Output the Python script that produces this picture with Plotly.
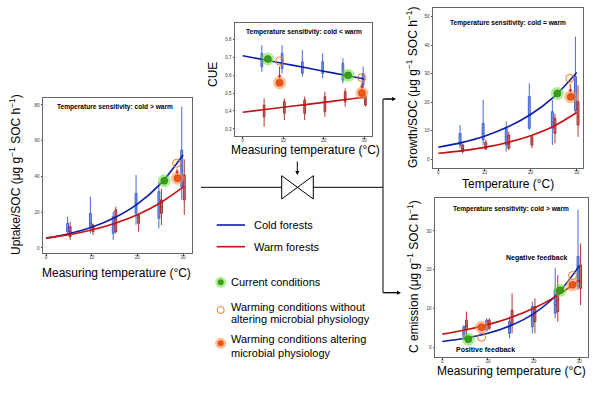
import plotly.graph_objects as go

W, H = 600, 393
def px(x): return x / W
def py(y): return 1 - y / H

FONT = "Liberation Sans, Arial, sans-serif"

temps = [5, 10, 15, 20, 25, 30]
curve_t = [0, 5, 10, 15, 20, 25, 30]

# ---------- Uptake/SOC ----------
up_cold_curve = [5.5, 8.0, 11.6, 16.9, 24.5, 35.7, 52.0]
up_warm_curve = [5.5, 7.5, 10.1, 13.7, 18.6, 25.2, 34.0]
up_cold_lo  = [8.2, 8.2, 4.5, 12.9, 11.0, 26.9]
up_cold_q1  = [9.1, 11.9, 8.2, 19.4, 16.6, 34.3]
up_cold_med = [11, 14, 13, 25, 25, 46]
up_cold_q3  = [13.8, 19.4, 17.5, 30.6, 31.5, 54.8]
up_cold_hi  = [17.5, 28.7, 20.3, 40.8, 37.0, 79.0]
up_warm_lo  = [4.5, 7.3, 8.2, 9.1, 12.9, 18.5]
up_warm_q1  = [6.3, 9.1, 9.1, 13.8, 19.4, 26.9]
up_warm_med = [9, 11, 14, 17, 23, 34]
up_warm_q3  = [11.9, 12.9, 21.3, 18.5, 26.9, 40.8]
up_warm_hi  = [14.7, 13.8, 23.1, 19.4, 33.0, 49.6]
up_current = ([25.9], [37.6])
up_nophys  = ([28.6], [47.4])
up_phys    = ([28.8], [39.0])

# ---------- CUE ----------
cue_cold_curve = [0.707, 0.686, 0.664, 0.643, 0.621, 0.600, 0.578]
cue_warm_curve = [0.393, 0.407, 0.421, 0.434, 0.448, 0.462, 0.476]
cue_cold_lo  = [0.618, 0.609, 0.590, 0.582, 0.554, 0.526]
cue_cold_q1  = [0.646, 0.637, 0.609, 0.609, 0.572, 0.544]
cue_cold_med = [0.685, 0.670, 0.640, 0.620, 0.610, 0.578]
cue_cold_q3  = [0.720, 0.720, 0.674, 0.674, 0.665, 0.609]
cue_cold_hi  = [0.766, 0.766, 0.739, 0.720, 0.693, 0.646]
cue_warm_lo  = [0.313, 0.350, 0.350, 0.368, 0.424, 0.424]
cue_warm_q1  = [0.368, 0.387, 0.387, 0.396, 0.452, 0.433]
cue_warm_med = [0.405, 0.420, 0.430, 0.445, 0.470, 0.460]
cue_warm_q3  = [0.433, 0.452, 0.461, 0.480, 0.507, 0.480]
cue_warm_hi  = [0.470, 0.470, 0.480, 0.507, 0.526, 0.489]
cue_current = ([6.2, 26.0], [0.689, 0.598])
cue_nophys  = ([9.1, 29.4], [0.678, 0.585])
cue_phys    = ([9.1, 29.4], [0.557, 0.500])

# ---------- Growth/SOC ----------
gr_cold_curve = [4.2, 5.85, 8.1, 11.3, 15.7, 21.8, 30.4]
gr_warm_curve = [2.1, 2.96, 4.17, 5.87, 8.27, 11.6, 16.4]
gr_cold_lo  = [3.8, 5.0, 2.7, 10.3, 5.0, 16.0]
gr_cold_q1  = [5.0, 6.8, 5.0, 10.9, 10.9, 17.0]
gr_cold_med = [6.0, 9.0, 8.0, 16.0, 13.0, 22.0]
gr_cold_q3  = [9.1, 12.6, 10.9, 22.0, 16.7, 29.0]
gr_cold_hi  = [12.0, 20.8, 13.2, 26.6, 20.8, 43.0]
gr_warm_lo  = [2.1, 3.3, 3.3, 3.9, 5.6, 7.9]
gr_warm_q1  = [2.7, 3.6, 3.9, 5.0, 9.1, 12.0]
gr_warm_med = [3.7, 4.5, 5.5, 6.5, 12.0, 15.0]
gr_warm_q3  = [5.0, 6.0, 8.5, 7.9, 14.4, 20.2]
gr_warm_hi  = [5.6, 6.8, 9.7, 8.5, 16.0, 26.0]
gr_current = ([25.8], [23.1])
gr_nophys  = ([28.5], [28.4])
gr_phys    = ([28.7], [21.9])

# ---------- C emission ----------
ce_cold_curve = [1.5, 2.33, 3.62, 5.6, 8.7, 13.5, 21.0]
ce_warm_curve = [3.4, 4.46, 5.85, 7.67, 10.06, 13.2, 17.3]
ce_cold_lo  = [2.3, 4.0, 2.3, 3.6, 7.5, 14.8]
ce_cold_q1  = [2.7, 4.5, 3.6, 5.3, 8.8, 15.6]
ce_cold_med = [3.5, 5.5, 5.0, 8.0, 11.0, 21.0]
ce_cold_q3  = [5.3, 7.0, 6.6, 10.5, 14.8, 23.4]
ce_cold_hi  = [5.7, 7.5, 7.9, 11.8, 20.4, 35.5]
ce_warm_lo  = [2.7, 4.5, 3.6, 3.6, 6.6, 10.9]
ce_warm_q1  = [4.5, 4.9, 5.8, 6.6, 9.2, 15.2]
ce_warm_med = [5.5, 6.0, 8.0, 9.0, 12.0, 17.0]
ce_warm_q3  = [7.0, 7.0, 9.6, 10.5, 15.2, 21.2]
ce_warm_hi  = [9.2, 7.5, 13.9, 12.6, 18.6, 26.8]
ce_current = ([5.7, 25.8], [2.1, 14.7])
ce_nophys  = ([8.6, 28.5], [2.6, 18.5])
ce_phys    = ([8.6, 28.5], [5.2, 16.1])

BLUE_LINE = "#0c1ea6"
RED_LINE = "#c31212"
BLUE_BOX_LINE = "#3558d0"
BLUE_BOX_FILL = "rgba(80,120,230,0.75)"
RED_BOX_LINE = "#a52020"
RED_BOX_FILL = "rgba(180,55,55,0.7)"
GREEN = "#3c9c1c"
GREEN_HALO = "rgba(110,225,60,0.55)"
ORANGE = "#ec561a"
ORANGE_HALO = "rgba(255,140,60,0.55)"
HOLLOW = "#f07a2a"

fig = go.Figure()

def add_panel(n, cold_curve, warm_curve, cold_box, warm_box, current, nophys, phys):
    xa = "x" if n == 1 else f"x{n}"
    ya = "y" if n == 1 else f"y{n}"
    for box, off, lc, fc in [(cold_box, -0.28, BLUE_BOX_LINE, BLUE_BOX_FILL),
                             (warm_box, 0.28, RED_BOX_LINE, RED_BOX_FILL)]:
        lo, q1, med, q3, hi = box
        fig.add_trace(go.Box(x=[t + off for t in temps], lowerfence=lo, q1=q1, median=med,
                             q3=q3, upperfence=hi, width=0.42, whiskerwidth=0,
                             fillcolor=fc, line=dict(color=lc, width=0.9),
                             boxpoints=False, xaxis=xa, yaxis=ya, showlegend=False,
                             hoverinfo="skip"))
    for curve, c in [(cold_curve, BLUE_LINE), (warm_curve, RED_LINE)]:
        fig.add_trace(go.Scatter(x=curve_t, y=curve, mode="lines",
                                 line=dict(color=c, width=1.6, shape="spline"),
                                 xaxis=xa, yaxis=ya, showlegend=False, hoverinfo="skip"))
    fig.add_trace(go.Scatter(x=current[0], y=current[1], mode="markers",
                             marker=dict(size=13, color=GREEN_HALO), xaxis=xa, yaxis=ya,
                             showlegend=False, hoverinfo="skip"))
    fig.add_trace(go.Scatter(x=current[0], y=current[1], mode="markers",
                             marker=dict(size=7, color=GREEN, line=dict(color="#2a7a10", width=0.6)),
                             xaxis=xa, yaxis=ya, showlegend=False, hoverinfo="skip"))
    fig.add_trace(go.Scatter(x=nophys[0], y=nophys[1], mode="markers",
                             marker=dict(size=8, symbol="circle-open", color=HOLLOW,
                                         line=dict(width=1)),
                             xaxis=xa, yaxis=ya, showlegend=False, hoverinfo="skip"))
    fig.add_trace(go.Scatter(x=phys[0], y=phys[1], mode="markers",
                             marker=dict(size=13, color=ORANGE_HALO), xaxis=xa, yaxis=ya,
                             showlegend=False, hoverinfo="skip"))
    fig.add_trace(go.Scatter(x=phys[0], y=phys[1], mode="markers",
                             marker=dict(size=7, color=ORANGE, line=dict(color="#c03a10", width=0.6)),
                             xaxis=xa, yaxis=ya, showlegend=False, hoverinfo="skip"))
    for hx, hy, fx, fy in zip(nophys[0], nophys[1], phys[0], phys[1]):
        fig.add_annotation(x=fx, y=fy, ax=hx, ay=hy, xref=xa, yref=ya, axref=xa, ayref=ya,
                           text="", showarrow=True, arrowhead=2, arrowsize=0.7,
                           arrowwidth=1, arrowcolor="#e02020", standoff=4, startstandoff=4)

add_panel(1, up_cold_curve, up_warm_curve,
          (up_cold_lo, up_cold_q1, up_cold_med, up_cold_q3, up_cold_hi),
          (up_warm_lo, up_warm_q1, up_warm_med, up_warm_q3, up_warm_hi),
          up_current, up_nophys, up_phys)
add_panel(2, cue_cold_curve, cue_warm_curve,
          (cue_cold_lo, cue_cold_q1, cue_cold_med, cue_cold_q3, cue_cold_hi),
          (cue_warm_lo, cue_warm_q1, cue_warm_med, cue_warm_q3, cue_warm_hi),
          cue_current, cue_nophys, cue_phys)
add_panel(3, gr_cold_curve, gr_warm_curve,
          (gr_cold_lo, gr_cold_q1, gr_cold_med, gr_cold_q3, gr_cold_hi),
          (gr_warm_lo, gr_warm_q1, gr_warm_med, gr_warm_q3, gr_warm_hi),
          gr_current, gr_nophys, gr_phys)
add_panel(4, ce_cold_curve, ce_warm_curve,
          (ce_cold_lo, ce_cold_q1, ce_cold_med, ce_cold_q3, ce_cold_hi),
          (ce_warm_lo, ce_warm_q1, ce_warm_med, ce_warm_q3, ce_warm_hi),
          ce_current, ce_nophys, ce_phys)

# legend markers on an overlay pixel axis
leg_x = [220.7]
fig.add_trace(go.Scatter(x=leg_x, y=[282.3], mode="markers", marker=dict(size=11, color=GREEN_HALO),
                         xaxis="x5", yaxis="y5", showlegend=False, hoverinfo="skip"))
fig.add_trace(go.Scatter(x=leg_x, y=[282.3], mode="markers", marker=dict(size=6, color=GREEN),
                         xaxis="x5", yaxis="y5", showlegend=False, hoverinfo="skip"))
fig.add_trace(go.Scatter(x=leg_x, y=[310], mode="markers",
                         marker=dict(size=7, symbol="circle-open", color=HOLLOW, line=dict(width=1)),
                         xaxis="x5", yaxis="y5", showlegend=False, hoverinfo="skip"))
fig.add_trace(go.Scatter(x=leg_x, y=[343.3], mode="markers", marker=dict(size=11, color=ORANGE_HALO),
                         xaxis="x5", yaxis="y5", showlegend=False, hoverinfo="skip"))
fig.add_trace(go.Scatter(x=leg_x, y=[343.3], mode="markers", marker=dict(size=6, color=ORANGE),
                         xaxis="x5", yaxis="y5", showlegend=False, hoverinfo="skip"))

def axis(domain, rng, tickvals, anchor, fmt=None, is_x=False):
    d = dict(domain=domain, range=rng, tickvals=tickvals, anchor=anchor,
             showline=True, mirror=True, linecolor="#666", linewidth=1,
             ticks="outside", ticklen=1.5, tickwidth=0.8, tickcolor="#444",
             tickfont=dict(size=4.5, color="#333", family=FONT),
             showgrid=False, zeroline=False, fixedrange=True)
    if is_x:
        d["ticklabelstandoff"] = -2
    if fmt:
        d["tickformat"] = fmt
    return d

layout = dict(
    width=W, height=H, margin=dict(l=0, r=0, t=0, b=0),
    paper_bgcolor="white", plot_bgcolor="rgba(0,0,0,0)",
    font=dict(family=FONT, color="black"),
    showlegend=False,
    xaxis=axis([px(43), px(192)], [-0.66, 31.97], [0, 10, 20, 30], "y", is_x=True),
    yaxis=axis([py(253), py(98)], [-2.8, 83.9], [0, 20, 40, 60, 80], "x"),
    xaxis2=axis([px(235), px(372)], [-1.9, 31.9], [0, 10, 20, 30], "y2", is_x=True),
    yaxis2=axis([py(136), py(23)], [0.261, 0.889], [0.3, 0.4, 0.5, 0.6, 0.7, 0.8], "x2", ".1f"),
    xaxis3=axis([px(433), px(583)], [-1.15, 31.36], [0, 10, 20, 30], "y3", is_x=True),
    yaxis3=axis([py(168), py(8)], [-3.05, 53.05], [0, 10, 20, 30, 40, 50], "x3"),
    xaxis4=axis([px(435), px(588)], [-1.6, 31.9], [0, 10, 20, 30], "y4", is_x=True),
    yaxis4=axis([py(357), py(198)], [-2.5, 38.5], [0, 10, 20, 30], "x4"),
    xaxis5=dict(domain=[0, 1], range=[0, W], visible=False, anchor="y5", fixedrange=True),
    yaxis5=dict(domain=[0, 1], range=[H, 0], visible=False, anchor="x5", fixedrange=True),
)
fig.update_layout(**layout)

def note(text, x, y, size, angle=0, xanchor="center", color="black"):
    fig.add_annotation(text=text, x=px(x), y=py(y), xref="paper", yref="paper",
                       showarrow=False, textangle=angle, xanchor=xanchor, yanchor="middle",
                       font=dict(size=size, family=FONT, color=color))

note("<b>Temperature sensitivity: cold &gt; warm</b>", 115, 106.7, 6.6)
note("<b>Temperature sensitivity: cold &lt; warm</b>", 303.7, 31.7, 6.6)
note("<b>Temperature sensitivity: cold = warm</b>", 507.7, 22.7, 6.6)
note("<b>Temperature sensitivity: cold &gt; warm</b>", 511, 209, 6.6)
note("<b>Negative feedback</b>", 537.3, 258.3, 7)
note("<b>Positive feedback</b>", 485, 349, 7)

unit = " (μg g<sup>−1</sup> SOC h<sup>−1</sup>)"
note("Uptake/SOC" + unit, 15, 175, 12, angle=-90)
note("CUE", 213, 75, 12, angle=-90)
note("Growth/SOC" + unit, 412, 88, 12, angle=-90)
note("C emission" + unit, 413, 277, 12, angle=-90)
note("Measuring temperature (°C)", 116.7, 272.5, 12)
note("Measuring temperature (°C)", 305, 149.5, 12)
note("Temperature (°C)", 507.7, 183.5, 12)
note("Measuring temperature (°C)", 511, 371, 12)

note("Cold forests", 251.7, 225, 11, xanchor="left")
note("Warm forests", 251.7, 246.7, 11, xanchor="left")
note("Current conditions", 228.5, 282.3, 11, xanchor="left")
note("Warming conditions without", 228.5, 306.7, 11, xanchor="left")
note("altering microbial physiology", 228.5, 319.3, 11, xanchor="left")
note("Warming conditions altering", 228.5, 339.3, 11, xanchor="left")
note("microbial physiology", 228.5, 353.3, 11, xanchor="left")

def line(x0, y0, x1, y1, color="black", width=1):
    fig.add_shape(type="line", x0=px(x0), y0=py(y0), x1=px(x1), y1=py(y1),
                  xref="paper", yref="paper", line=dict(color=color, width=width))

line(216.7, 225, 245, 225, BLUE_LINE, 1.6)
line(216.7, 246.7, 245, 246.7, RED_LINE, 1.6)
line(201, 187.3, 281.7, 187.3)
line(313.3, 187.3, 383, 187.3)
line(383, 99, 383, 292.7)
line(383, 99, 392, 99)
line(383, 292.7, 397, 292.7)
bow = (f"M {px(281.7)},{py(175.7)} L {px(313.3)},{py(199)} L {px(313.3)},{py(175.7)} "
       f"L {px(281.7)},{py(199)} Z")
fig.add_shape(type="path", path=bow, xref="paper", yref="paper",
              line=dict(color="black", width=1), fillcolor="white")

def arrow(xh, yh, dx, dy):
    fig.add_annotation(x=px(xh), y=py(yh), xref="paper", yref="paper", ax=dx, ay=dy,
                       axref="pixel", ayref="pixel", text="", showarrow=True,
                       arrowhead=2, arrowsize=0.8, arrowwidth=1, arrowcolor="black")

arrow(297.3, 175, 0, -15)
arrow(396, 99, -13, 0)
arrow(401, 292.7, -18, 0)

fig.write_html("out.html", config={"displayModeBar": False},
               post_script="document.body.style.margin='0';document.body.style.padding='0';")
